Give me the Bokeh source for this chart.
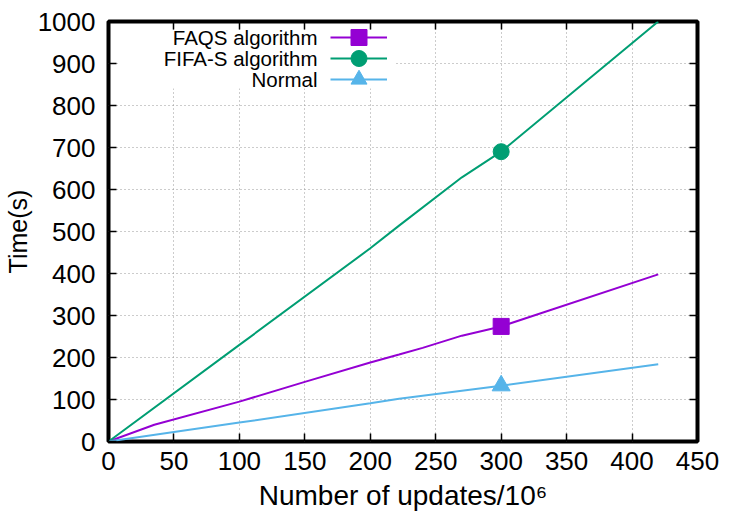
from bokeh.plotting import figure
from bokeh.models import (Range1d, LinearAxis, Legend, LegendItem, Label,
                          BoxAnnotation, FixedTicker)
from bokeh.embed import file_html
from bokeh.resources import INLINE

# ---- data ----
updates_faqs = [0, 35, 100, 150, 200, 222, 240, 270, 300, 420]
time_faqs = [0, 40, 95, 142, 188, 207, 223, 252, 274, 398]

updates_fifa = [0, 100, 200, 222, 270, 300, 420]
time_fifa = [0, 230, 460, 514, 629, 690, 1000]

updates_normal = [0, 100, 200, 222, 300, 420]
time_normal = [0, 45, 91, 102, 133, 184]

marker_at = 300
series_names = ["FAQS algorithm", "FIFA-S algorithm", "Normal"]
series_colors = ["#9400D3", "#009E73", "#56B4E9"]
series_markers = ["square", "circle", "triangle"]
x_ticks = list(range(0, 451, 50))
y_ticks = list(range(0, 1001, 100))

FONT = "Liberation Sans"

p = figure(width=750, height=525, output_backend="svg", toolbar_location=None,
           x_range=Range1d(0, 450), y_range=Range1d(0, 1000),
           min_border_left=108, min_border_right=53, min_border_top=21,
           min_border_bottom=84)
p.background_fill_color = "white"
p.border_fill_color = "white"
p.outline_line_color = "black"
p.outline_line_width = 4

# axes
for ax in (p.xaxis[0], p.yaxis[0]):
    ax.major_label_text_font = FONT
    ax.major_label_text_font_size = "26px"
    ax.major_label_text_color = "black"
    ax.axis_label_text_font = FONT
    ax.axis_label_text_font_style = "normal"
    ax.axis_label_text_color = "black"
    ax.major_tick_in = 8
    ax.major_tick_out = 0
    ax.major_tick_line_width = 1.5
    ax.minor_tick_line_color = None
    ax.axis_line_color = None

p.xaxis.ticker = FixedTicker(ticks=x_ticks)
p.yaxis.ticker = FixedTicker(ticks=y_ticks)
p.xaxis.axis_label = "Number of updates/10\u2076"
p.xaxis.axis_label_text_font_size = "28px"
p.xaxis.major_label_standoff = 10
p.xaxis.axis_label_standoff = 7
p.yaxis.axis_label = "Time(s)"
p.yaxis.axis_label_text_font_size = "25px"
p.yaxis.major_label_standoff = 13
p.yaxis.axis_label_standoff = 3

# mirror ticks (no labels)
top = LinearAxis(ticker=FixedTicker(ticks=x_ticks),
                 major_label_overrides={t: "" for t in x_ticks},
                 major_tick_in=8, major_tick_out=0, major_tick_line_width=1.5,
                 minor_tick_line_color=None, axis_line_color=None, major_label_standoff=0)
right = LinearAxis(ticker=FixedTicker(ticks=y_ticks),
                   major_label_overrides={t: "" for t in y_ticks},
                   major_tick_in=8, major_tick_out=0, major_tick_line_width=1.5,
                   minor_tick_line_color=None, axis_line_color=None, major_label_standoff=0)
p.add_layout(top, "above")
p.add_layout(right, "right")

# grid
p.xgrid.ticker = FixedTicker(ticks=x_ticks)
p.ygrid.ticker = FixedTicker(ticks=y_ticks)
p.xgrid.grid_line_color = "#999999"
p.ygrid.grid_line_color = "#999999"
p.xgrid.grid_line_dash = "1 3"
p.ygrid.grid_line_dash = "1 3"
p.xgrid.grid_line_width = 1
p.ygrid.grid_line_width = 1

# white key box (hides grid behind the legend)
p.add_layout(BoxAnnotation(left=10, right=287, top=410, bottom=353,
                           left_units="screen", right_units="screen",
                           top_units="screen", bottom_units="screen",
                           fill_color="white", fill_alpha=1, line_color=None))

series = [(updates_faqs, time_faqs), (updates_fifa, time_fifa), (updates_normal, time_normal)]
row_centers = [404, 383, 362]
marker_sizes = [16, 16, 18]
for (xs, ys), name, col, mk, sz, rc in zip(series, series_names, series_colors,
                                           series_markers, marker_sizes, row_centers):
    lr = p.line(xs, ys, line_color=col, line_width=2)
    i = xs.index(marker_at)
    sr = p.scatter([xs[i]], [ys[i]], marker=mk, size=sz, fill_color=col, line_color=col)
    leg = Legend(items=[LegendItem(label="", renderers=[lr, sr])],
                 location=(222, rc - 20), glyph_width=57, glyph_height=40,
                 label_height=40, label_width=1, label_standoff=0, padding=0,
                 spacing=0, margin=0, border_line_color=None, background_fill_alpha=0)
    p.add_layout(leg, "center")
    p.add_layout(Label(x=209, y=rc, x_units="screen", y_units="screen", text=name,
                       text_align="right", text_baseline="middle",
                       text_font=FONT, text_font_size="20.5px", text_color="black"))

open("out.html", "w").write(file_html(p, INLINE))
